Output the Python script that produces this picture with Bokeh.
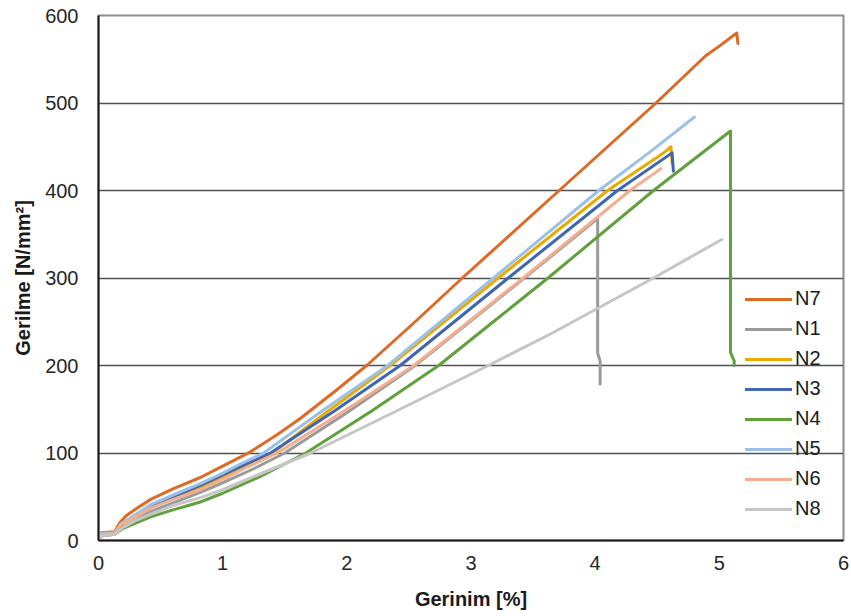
from bokeh.plotting import figure
from bokeh.models import Range1d, FixedTicker, Legend, LegendItem
from bokeh.embed import file_html
from bokeh.resources import INLINE

# Strain [%] / stress [N/mm²] readings per specimen
n7_x = [0, 0.02, 0.13, 0.17, 0.22, 0.3, 0.42, 0.6, 0.82, 1.0, 1.22, 1.45, 1.63, 1.9, 2.16, 2.55, 2.93, 3.71, 4.49, 4.89, 5.0, 5.14, 5.15]
n7_y = [0, 9, 10, 20, 28, 36, 47, 59, 72, 85, 101, 122, 140, 170, 200, 250, 300, 400, 500, 554, 565, 580, 568]

n1_x = [0, 0.02, 0.13, 0.18, 0.25, 0.42, 0.6, 0.82, 1.0, 1.25, 1.50, 2.0, 2.55, 3.43, 4.02, 4.02, 4.04, 4.04]
n1_y = [0, 6, 7, 16, 21, 33, 43, 55, 66, 82, 100, 146, 200, 300, 368, 214, 205, 179]

n2_x = [0, 0.02, 0.13, 0.18, 0.25, 0.42, 0.6, 0.82, 1.0, 1.2, 1.40, 1.85, 2.35, 3.22, 4.10, 4.50, 4.57, 4.61, 4.62]
n2_y = [0, 6, 8, 17, 23, 38, 49, 61, 73, 86, 100, 148, 200, 300, 400, 438, 445, 450, 431]

n3_x = [0, 0.02, 0.13, 0.18, 0.25, 0.42, 0.6, 0.82, 1.0, 1.2, 1.385, 1.9, 2.43, 3.30, 4.18, 4.62, 4.63]
n3_y = [0, 7, 8, 18, 24, 39, 50, 63, 75, 88, 100, 148, 200, 300, 400, 443, 422]

n4_x = [0, 0.02, 0.13, 0.2, 0.3, 0.42, 0.6, 0.82, 1.0, 1.3, 1.67, 2.2, 2.74, 3.18, 3.62, 4.47, 5.09, 5.09, 5.12, 5.12]
n4_y = [0, 5, 7, 14, 20, 27, 35, 44, 54, 73, 100, 148, 200, 250, 300, 400, 468, 215, 205, 200]

n5_x = [0, 0.02, 0.13, 0.18, 0.25, 0.42, 0.6, 0.82, 1.0, 1.15, 1.33, 1.8, 2.33, 3.18, 4.03, 4.45, 4.80]
n5_y = [0, 8, 9, 19, 25, 41, 52, 65, 77, 88, 100, 148, 200, 300, 400, 445, 484]

n6_x = [0, 0.02, 0.13, 0.18, 0.25, 0.42, 0.6, 0.82, 1.0, 1.2, 1.44, 2.0, 2.54, 3.42, 4.28, 4.53]
n6_y = [0, 7, 8, 18, 23, 37, 47, 58, 70, 84, 100, 150, 200, 300, 400, 425]

n8_x = [0, 0.02, 0.13, 0.2, 0.3, 0.42, 0.6, 0.82, 1.0, 1.3, 1.71, 2.4, 3.14, 3.64, 4.47, 5.02]
n8_y = [0, 5, 7, 15, 23, 30, 40, 49, 58, 76, 100, 148, 200, 236, 300, 344]

series = [
    ("N7", n7_x, n7_y, "#DD6B26"),
    ("N1", n1_x, n1_y, "#9A9A9A"),
    ("N2", n2_x, n2_y, "#E8AA00"),
    ("N3", n3_x, n3_y, "#3E66B2"),
    ("N4", n4_x, n4_y, "#62A03E"),
    ("N5", n5_x, n5_y, "#9DC1E6"),
    ("N6", n6_x, n6_y, "#F2AE8E"),
    ("N8", n8_x, n8_y, "#C6C6C6"),
]

x_ticks = [0, 1, 2, 3, 4, 5, 6]
y_ticks = [0, 100, 200, 300, 400, 500, 600]

FONT = "Liberation Sans"

p = figure(width=851, height=616, output_backend="svg", toolbar_location=None,
           x_range=Range1d(0, 6), y_range=Range1d(0, 600),
           min_border_left=98, min_border_right=8, min_border_top=15, min_border_bottom=76)

p.background_fill_color = "white"
p.border_fill_color = "white"
p.outline_line_color = "#8C8C8C"
p.outline_line_width = 2

items = []
for name, xs, ys, col in series:
    r = p.line(xs, ys, line_color=col, line_width=3, line_join="round", line_cap="round")
    items.append(LegendItem(label=name, renderers=[r]))

p.xgrid.grid_line_color = None
p.ygrid.grid_line_color = "#505050"
p.ygrid.grid_line_width = 1.5
p.ygrid.ticker = FixedTicker(ticks=y_ticks)

p.xaxis.ticker = FixedTicker(ticks=x_ticks)
p.yaxis.ticker = FixedTicker(ticks=y_ticks)
for ax in (p.xaxis[0], p.yaxis[0]):
    ax.axis_line_color = "#1A1A1A"
    ax.axis_line_width = 2
    ax.major_tick_line_color = None
    ax.minor_tick_line_color = None
    ax.major_tick_out = 0
    ax.major_tick_in = 0
    ax.major_label_text_font = FONT
    ax.major_label_text_font_size = "20px"
    ax.major_label_text_color = "#262626"
    ax.axis_label_text_font = FONT
    ax.axis_label_text_font_style = "bold"
    ax.axis_label_text_font_size = "20px"
    ax.axis_label_text_color = "#1A1A1A"

p.xaxis.axis_label = "Gerinim [%]"
p.yaxis.axis_label = "Gerilme [N/mm²]"
p.xaxis.major_label_standoff = 15
p.yaxis.major_label_standoff = 20
p.xaxis.axis_label_standoff = 15
p.yaxis.axis_label_standoff = 8

legend = Legend(items=items, location=(647, 20), orientation="vertical",
                glyph_width=47, glyph_height=20, label_height=20, spacing=7,
                label_standoff=3, padding=0, margin=0,
                border_line_color=None, background_fill_alpha=0,
                label_text_font=FONT, label_text_font_size="20px",
                label_text_color="#1A1A1A")
p.add_layout(legend)

open("out.html", "w").write(file_html(p, INLINE))
